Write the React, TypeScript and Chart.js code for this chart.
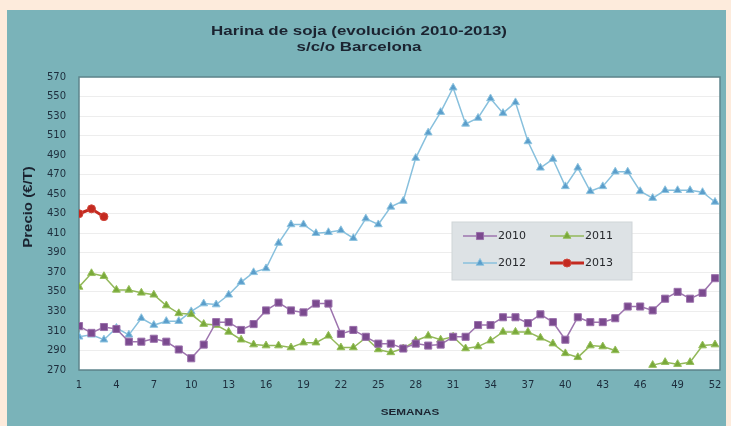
import React, { useEffect, useRef } from 'react';
import { Chart, registerables } from 'chart.js';

Chart.register(...registerables);

const weeks = [1, 2, 3, 4, 5, 6, 7, 8, 9, 10, 11, 12, 13, 14, 15, 16, 17, 18, 19, 20, 21, 22, 23, 24, 25, 26, 27, 28, 29, 30, 31, 32, 33, 34, 35, 36, 37, 38, 39, 40, 41, 42, 43, 44, 45, 46, 47, 48, 49, 50, 51, 52];
const xTickLabels = [1, 4, 7, 10, 13, 16, 19, 22, 25, 28, 31, 34, 37, 40, 43, 46, 49, 52];
const yTickLabels = [270, 290, 310, 330, 350, 370, 390, 410, 430, 450, 470, 490, 510, 530, 550, 570];

const s2010 = [315, 308, 314, 312, 299, 299, 302, 299, 291, 282, 296, 319, 319, 311, 317, 331, 339, 331, 329, 338, 338, 307, 311, 304, 297, 297, 292, 297, 295, 296, 304, 304, 316, 316, 324, 324, 318, 327, 319, 301, 324, 319, 319, 323, 335, 335, 331, 343, 350, 343, 349, 364];
const s2011 = [355, 369, 366, 352, 352, 349, 347, 336, 328, 327, 317, 316, 309, 301, 296, 295, 295, 293, 298, 298, 305, 293, 293, 303, 291, 288, 292, 300, 305, 301, 304, 292, 294, 300, 309, 309, 309, 303, 297, 287, 283, 295, 294, 290, null, null, 275, 278, 276, 278, 295, 296];
const s2012 = [304, 306, 301, 313, 306, 323, 316, 320, 320, 330, 338, 337, 347, 360, 370, 374, 400, 419, 419, 410, 411, 413, 405, 425, 419, 437, 443, 487, 513, 534, 559, 522, 528, 548, 533, 544, 504, 477, 486, 458, 477, 453, 458, 473, 473, 453, 446, 454, 454, 454, 452, 442];
const s2013 = [430, 435, 427];

const seriesNames = ['2010', '2011', '2012', '2013'];

const TITLE1 = 'Harina de soja (evolución 2010-2013)';
const TITLE2 = 's/c/o Barcelona';
const Y_TITLE = 'Precio (€/T)';
const X_TITLE = 'SEMANAS';

const FONT = '"Liberation Sans", Arial, sans-serif';
const TICK_FONT = '"DejaVu Sans", "Liberation Sans", sans-serif';

function drawMarker(ctx: CanvasRenderingContext2D, style: string, x: number, y: number, r: number, fill: string, stroke: string) {
  ctx.save();
  ctx.fillStyle = fill;
  ctx.strokeStyle = stroke;
  ctx.lineWidth = 1;
  ctx.beginPath();
  if (style === 'rect') {
    const s = Math.SQRT1_2 * r;
    ctx.rect(x - s, y - s, 2 * s, 2 * s);
  } else if (style === 'triangle') {
    const a = (2 * Math.PI) / 3;
    ctx.moveTo(x, y - r);
    ctx.lineTo(x + Math.sin(a) * r, y - Math.cos(a) * r);
    ctx.lineTo(x + Math.sin(2 * a) * r, y - Math.cos(2 * a) * r);
    ctx.closePath();
  } else {
    ctx.arc(x, y, r, 0, Math.PI * 2);
  }
  ctx.fill();
  ctx.stroke();
  ctx.restore();
}

function stretchedText(ctx: CanvasRenderingContext2D, text: string, x: number, y: number, sx: number) {
  ctx.save();
  ctx.translate(x, y);
  ctx.scale(sx, 1);
  ctx.fillText(text, 0, 0);
  ctx.restore();
}

const decorPlugin = {
  id: 'decor',
  beforeDraw(chart: any) {
    const { ctx, chartArea: a } = chart;
    ctx.save();
    ctx.fillStyle = '#ffffff';
    ctx.fillRect(a.left, a.top, a.right - a.left, a.bottom - a.top);
    ctx.restore();
  },
  beforeDatasetsDraw(chart: any) {
    const { ctx, chartArea: a } = chart;
    ctx.save();
    ctx.strokeStyle = '#5e858c';
    ctx.lineWidth = 1.5;
    ctx.strokeRect(a.left, a.top, a.right - a.left, a.bottom - a.top);
    ctx.restore();
  },
  afterDraw(chart: any) {
    const { ctx, chartArea: a } = chart;
    ctx.save();
    // titles
    ctx.fillStyle = '#1b2330';
    ctx.textAlign = 'center';
    ctx.textBaseline = 'middle';
    ctx.font = `bold 13px ${FONT}`;
    stretchedText(ctx, TITLE1, 352, 21.5, 1.3);
    stretchedText(ctx, TITLE2, 352, 37.5, 1.3);
    // y title
    ctx.save();
    ctx.translate(21, 197);
    ctx.rotate(-Math.PI / 2);
    ctx.font = `bold 13px ${FONT}`;
    ctx.scale(1.15, 1);
    ctx.fillText(Y_TITLE, 0, 0);
    ctx.restore();
    // x title
    ctx.font = `bold 9px ${FONT}`;
    stretchedText(ctx, X_TITLE, 403, 403, 1.3);

    // legend
    const bx = a.left + 373;
    const by = a.top + 145;
    const bw = 180;
    const bh = 58;
    ctx.fillStyle = '#dde2e5';
    ctx.fillRect(bx, by, bw, bh);
    ctx.strokeStyle = '#cfd5d8';
    ctx.lineWidth = 1;
    ctx.strokeRect(bx, by, bw, bh);
    chart.data.datasets.forEach((ds: any, i: number) => {
      const col = i % 2;
      const row = Math.floor(i / 2);
      const lx = bx + 11 + col * 87;
      const ly = by + 14 + row * 27;
      ctx.strokeStyle = ds.borderColor;
      ctx.lineWidth = ds.borderWidth;
      ctx.beginPath();
      ctx.moveTo(lx, ly);
      ctx.lineTo(lx + 34, ly);
      ctx.stroke();
      drawMarker(ctx, ds.pointStyle, lx + 17, ly, ds.pointRadius, ds.pointBackgroundColor, ds.pointBorderColor);
      ctx.fillStyle = '#26282c';
      ctx.font = `11px ${TICK_FONT}`;
      ctx.textAlign = 'left';
      ctx.textBaseline = 'middle';
      ctx.fillText(ds.label, lx + 35, ly + 0.5);
    });
    ctx.restore();
  },
};

function toPoints(values: (number | null)[]) {
  return values.map((v, i) => ({ x: weeks[i], y: v }));
}

export default function App() {
  const ref = useRef<HTMLCanvasElement | null>(null);

  useEffect(() => {
    if (!ref.current) return;
    const chart = new Chart(ref.current, {
      type: 'line',
      data: {
        datasets: [
          {
            label: seriesNames[0],
            data: toPoints(s2010) as any,
            borderColor: '#9d74ae',
            borderWidth: 1.5,
            pointStyle: 'rect',
            pointRadius: 5,
            pointBackgroundColor: '#7b4a8f',
            pointBorderColor: '#9a70ab',
            pointBorderWidth: 1,
          },
          {
            label: seriesNames[1],
            data: toPoints(s2011) as any,
            borderColor: '#93b85a',
            borderWidth: 1.5,
            pointStyle: 'triangle',
            pointRadius: 4.5,
            pointBackgroundColor: '#79a93a',
            pointBorderColor: '#97bf5c',
            pointBorderWidth: 1,
            spanGaps: false,
          },
          {
            label: seriesNames[2],
            data: toPoints(s2012) as any,
            borderColor: '#88c0dd',
            borderWidth: 1.5,
            pointStyle: 'triangle',
            pointRadius: 4.5,
            pointBackgroundColor: '#5b9ecb',
            pointBorderColor: '#8ec4e0',
            pointBorderWidth: 1,
          },
          {
            label: seriesNames[3],
            data: toPoints(s2013) as any,
            borderColor: '#c42a20',
            borderWidth: 3,
            pointStyle: 'circle',
            pointRadius: 4,
            pointBackgroundColor: '#c42a20',
            pointBorderColor: '#d0473c',
            pointBorderWidth: 1,
          },
        ] as any,
      },
      options: {
        responsive: false,
        animation: false,
        devicePixelRatio: 1,
        layout: { padding: { left: 0, right: 4, top: 67, bottom: 0 } },
        plugins: {
          legend: { display: false },
          title: { display: false },
          tooltip: { enabled: false },
        },
        scales: {
          x: {
            type: 'linear',
            min: 1,
            max: 52.4,
            afterBuildTicks: (scale: any) => {
              scale.ticks = xTickLabels.map((v) => ({ value: v }));
            },
            afterFit: (scale: any) => {
              scale.height = 56;
              scale.paddingLeft = 0;
              scale.paddingRight = 0;
            },
            grid: { display: false, drawTicks: false },
            border: { display: false },
            ticks: {
              padding: 9,
              maxRotation: 0,
              autoSkip: false,
              color: '#1d2d3c',
              font: { family: TICK_FONT, size: 10 },
            },
          },
          y: {
            type: 'linear',
            min: 270,
            max: 570,
            afterBuildTicks: (scale: any) => {
              scale.ticks = yTickLabels.map((v) => ({ value: v }));
            },
            afterFit: (scale: any) => {
              scale.width = 72;
            },
            grid: { color: 'rgba(0,0,0,0.07)', drawTicks: false, lineWidth: 1 },
            border: { display: false },
            ticks: {
              padding: 13,
              autoSkip: false,
              color: '#1d2d3c',
              font: { family: TICK_FONT, size: 10 },
            },
          },
        },
      } as any,
      plugins: [decorPlugin],
    });
    return () => chart.destroy();
  }, []);

  return (
    <div style={{ position: 'fixed', left: 0, top: 0, right: 0, bottom: 0, background: '#fdebdc', overflow: 'hidden' }}>
      <div style={{ position: 'absolute', left: 7, top: 10, width: 719, height: 416, background: '#7ab3b9' }}>
        <canvas ref={ref} width={719} height={416} style={{ display: 'block', width: 719, height: 416 }} />
      </div>
    </div>
  );
}
